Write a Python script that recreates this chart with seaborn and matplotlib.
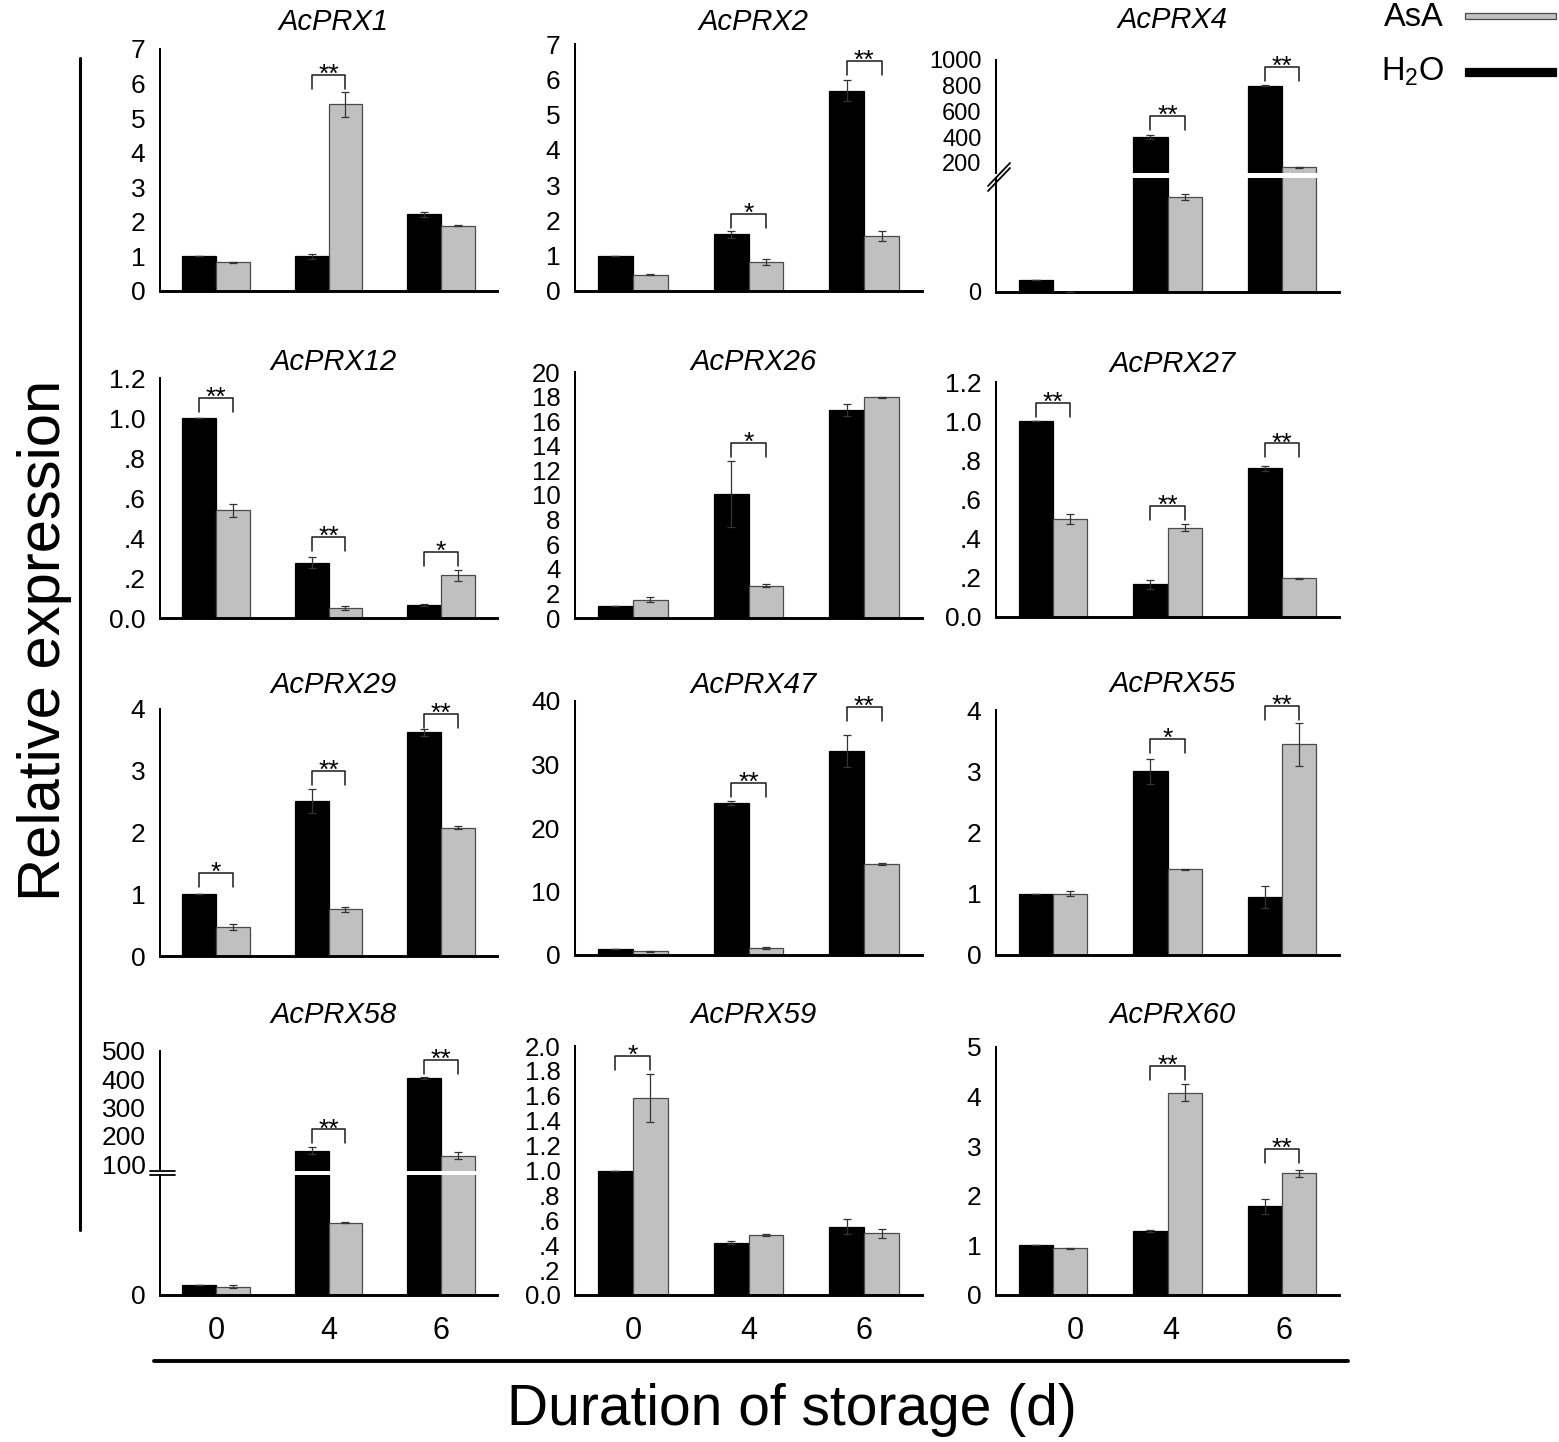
import numpy as np
import pandas as pd
import matplotlib
matplotlib.use("Agg")
import matplotlib.pyplot as plt
import seaborn as sns
from matplotlib.patches import Rectangle
from matplotlib.lines import Line2D

# ---------------- data ----------------
days = ["0", "4", "6"]
treatments = ["H2O", "AsA"]

prx1_h2o = [1.0, 1.0, 2.22];      prx1_h2o_err = [0.0, 0.08, 0.07]
prx1_asa = [0.83, 5.40, 1.89];    prx1_asa_err = [0.02, 0.37, 0.01]
prx1_sig = [(1, "**", 6.26)]

prx2_h2o = [1.0, 1.61, 5.68];     prx2_h2o_err = [0.0, 0.10, 0.30]
prx2_asa = [0.46, 0.83, 1.56];    prx2_asa_err = [0.01, 0.09, 0.15]
prx2_sig = [(1, "*", 2.19), (2, "**", 6.52)]

prx4_h2o = [1.0, 400.0, 800.0];   prx4_h2o_err = [0.0, 14.0, 3.0]
prx4_asa = [0.0, 8.6, 166.0];     prx4_asa_err = [0.0, 0.27, 3.0]
prx4_sig = [(1, "**", 568.0), (2, "**", 948.0)]

prx12_h2o = [1.0, 0.276, 0.064]; prx12_h2o_err = [0.0, 0.028, 0.005]
prx12_asa = [0.538, 0.048, 0.214]; prx12_asa_err = [0.033, 0.010, 0.028]
prx12_sig = [(0, "**", 1.10), (1, "**", 0.406), (2, "*", 0.328)]

prx26_h2o = [1.0, 10.1, 16.9];   prx26_h2o_err = [0.0, 2.7, 0.5]
prx26_asa = [1.49, 2.64, 17.93]; prx26_asa_err = [0.2, 0.15, 0.05]
prx26_sig = [(1, "*", 14.2)]

prx27_h2o = [1.0, 0.166, 0.76];  prx27_h2o_err = [0.0, 0.022, 0.012]
prx27_asa = [0.50, 0.456, 0.198]; prx27_asa_err = [0.024, 0.017, 0.002]
prx27_sig = [(0, "**", 1.093), (1, "**", 0.568), (2, "**", 0.886)]

prx29_h2o = [1.0, 2.51, 3.62];   prx29_h2o_err = [0.0, 0.19, 0.05]
prx29_asa = [0.476, 0.757, 2.08]; prx29_asa_err = [0.05, 0.04, 0.02]
prx29_sig = [(0, "*", 1.34), (1, "**", 2.99), (2, "**", 3.92)]

prx47_h2o = [1.0, 24.0, 32.1];   prx47_h2o_err = [0.0, 0.3, 2.5]
prx47_asa = [0.6, 1.05, 14.4];   prx47_asa_err = [0.05, 0.15, 0.15]
prx47_sig = [(1, "**", 27.1), (2, "**", 39.05)]

prx55_h2o = [1.0, 3.0, 0.95];    prx55_h2o_err = [0.0, 0.2, 0.18]
prx55_asa = [1.0, 1.40, 3.44];   prx55_asa_err = [0.04, 0.01, 0.35]
prx55_sig = [(1, "*", 3.52), (2, "**", 4.07)]

prx58_h2o = [1.0, 146.5, 403.5]; prx58_h2o_err = [0.0, 12.0, 2.0]
prx58_asa = [0.83, 7.23, 129.0]; prx58_asa_err = [0.13, 0.05, 12.0]
prx58_sig = [(1, "**", 222.0), (2, "**", 467.0)]

prx59_h2o = [1.0, 0.42, 0.55];   prx59_h2o_err = [0.0, 0.013, 0.059]
prx59_asa = [1.583, 0.483, 0.494]; prx59_asa_err = [0.195, 0.008, 0.04]
prx59_sig = [(0, "*", 1.92)]

prx60_h2o = [1.0, 1.285, 1.79];  prx60_h2o_err = [0.0, 0.02, 0.15]
prx60_asa = [0.94, 4.08, 2.456]; prx60_asa_err = [0.005, 0.17, 0.07]
prx60_sig = [(1, "**", 4.62), (2, "**", 2.95)]

# tick values / labels
ticks_0_7 = [0, 1, 2, 3, 4, 5, 6, 7]
ticks_0_4 = [0, 1, 2, 3, 4]
ticks_0_5 = [0, 1, 2, 3, 4, 5]
ticks_0_20 = [0, 2, 4, 6, 8, 10, 12, 14, 16, 18, 20]
ticks_0_40 = [0, 10, 20, 30, 40]
ticks_12 = [0.0, 0.2, 0.4, 0.6, 0.8, 1.0, 1.2]
labels_12 = ["0.0", ".2", ".4", ".6", ".8", "1.0", "1.2"]
ticks_20 = [0.0, 0.2, 0.4, 0.6, 0.8, 1.0, 1.2, 1.4, 1.6, 1.8, 2.0]
labels_20 = ["0.0", ".2", ".4", ".6", ".8", "1.0", "1.2", "1.4", "1.6", "1.8", "2.0"]
ticks_prx4_upper = [200, 400, 600, 800, 1000]
ticks_prx58_upper = [100, 200, 300, 400, 500]

# ---------------- style ----------------
sns.set_style("white")
plt.rcParams["font.family"] = ["Liberation Sans", "DejaVu Sans"]
plt.rcParams["mathtext.fontset"] = "custom"
plt.rcParams["mathtext.rm"] = "Liberation Sans"
plt.rcParams["mathtext.it"] = "Liberation Sans:italic"
plt.rcParams["text.color"] = "black"
plt.rcParams["axes.labelcolor"] = "black"
plt.rcParams["xtick.color"] = "black"
plt.rcParams["ytick.color"] = "black"
plt.rcParams["axes.edgecolor"] = "black"

W, H = 1559, 1442
fig = plt.figure(figsize=(W / 100, H / 100), dpi=100)
fig.patch.set_facecolor("white")

BLACK = "#000000"
GRAY = "#c0c0c0"
GRAY_EDGE = "#4a4a4a"
ERR = "#333333"


def rect(l, r, t, b):
    return [l / W, 1 - b / H, (r - l) / W, (b - t) / H]


def fx(x):
    return x / W


def fy(y):
    return 1 - y / H


COLS = {1: (160, 497), 2: (575, 922), 3: (996, 1339)}


def style_axes(ax, upper=False, ysize=19):
    for s in ["top", "right"]:
        ax.spines[s].set_visible(False)
    ax.spines["left"].set_linewidth(1.45)
    ax.spines["bottom"].set_linewidth(2.1)
    ax.spines["left"].set_color("black")
    ax.spines["bottom"].set_color("black")
    ax.set_facecolor("none")
    ax.tick_params(axis="y", direction="out", length=2.5, width=1.3, pad=8,
                   labelsize=ysize, colors="black")
    ax.tick_params(axis="x", direction="out", length=4, width=1.3, pad=11,
                   labelsize=22, colors="black")
    if upper:
        ax.spines["bottom"].set_visible(False)
        ax.tick_params(axis="x", bottom=False, labelbottom=False)
    ax.set_xlabel("")
    ax.set_ylabel("")
    ax.set_xlim(-0.5, 2.5)


def draw_bars(ax, h, he, a, ae):
    df = pd.DataFrame({
        "day": days + days,
        "value": h + a,
        "treatment": ["H2O"] * 3 + ["AsA"] * 3,
    })
    sns.barplot(data=df, x="day", y="value", hue="treatment", order=days,
                hue_order=treatments, palette={"H2O": BLACK, "AsA": GRAY},
                saturation=1, width=0.6, errorbar=None, legend=False, ax=ax,
                zorder=2)
    conts = list(ax.containers[:2])
    for cont, ec, vals, errs in zip(conts, [BLACK, GRAY_EDGE], [h, a], [he, ae]):
        xs = []
        for p in cont.patches:
            p.set_edgecolor(ec)
            p.set_linewidth(0.9)
            xs.append(p.get_x() + p.get_width() / 2)
        ax.errorbar(xs, vals, yerr=errs, fmt="none", ecolor=ERR, elinewidth=0.9,
                    capsize=3, capthick=0.9, zorder=3)


def brackets(ax, sig, leg_px=14):
    y0, y1 = ax.get_ylim()
    hpx = ax.bbox.height
    leg = leg_px / hpx * (y1 - y0)
    for gi, lab, top in sig:
        x0, x1 = gi - 0.15, gi + 0.15
        ax.plot([x0, x0, x1, x1], [top - leg, top, top, top - leg], color="#1a1a1a",
                lw=1.1, clip_on=False, zorder=4)
        ax.annotate(lab, (gi, top), xytext=(0, -5), textcoords="offset points",
                    ha="center", va="baseline", fontsize=19, color="black",
                    annotation_clip=False)


def title(text, col, baseline):
    l, r = COLS[col]
    fig.text(fx((l + r) / 2 + 5), fy(baseline), text, ha="center", va="baseline",
             fontsize=21, style="italic", color="black")


def simple_panel(col, top, bottom, data, ylim, yticks, ylabels=None, row4=False,
                 ysize=19, xlabel_offsets=None):
    l, r = COLS[col]
    ax = fig.add_axes(rect(l, r, top, bottom))
    h, he, a, ae, sig = data
    draw_bars(ax, h, he, a, ae)
    style_axes(ax, ysize=ysize)
    ax.set_ylim(*ylim)
    ax.set_yticks(yticks)
    ax.set_yticklabels(ylabels if ylabels is not None else [str(t) for t in yticks])
    ax.set_xticks([0, 1, 2])
    if row4 and xlabel_offsets is None:
        ax.set_xticklabels(days)
    else:
        ax.set_xticklabels([])
    if row4 and xlabel_offsets is not None:
        for i, d in enumerate(days):
            ax.annotate(d, xy=(i, 0), xycoords=("data", "axes fraction"),
                        xytext=(xlabel_offsets[i] * 0.72, -15),
                        textcoords="offset points", ha="center", va="top",
                        fontsize=22, color="black", annotation_clip=False)
    brackets(ax, sig)
    return ax


def broken_panel(col, top, brk_top, brk_bot, bottom, data, upper_lim, upper_ticks,
                 lower_lim, row4=False, ysize=19):
    l, r = COLS[col]
    h, he, a, ae, sig = data
    axu = fig.add_axes(rect(l, r, top, brk_top))
    draw_bars(axu, h, he, a, ae)
    style_axes(axu, upper=True, ysize=ysize)
    axu.set_ylim(*upper_lim)
    axu.set_yticks(upper_ticks)
    axu.set_yticklabels([str(t) for t in upper_ticks])
    axl = fig.add_axes(rect(l, r, brk_bot, bottom))
    draw_bars(axl, h, he, a, ae)
    style_axes(axl, ysize=ysize)
    axl.set_ylim(*lower_lim)
    axl.set_yticks([0])
    axl.set_yticklabels(["0"])
    axl.set_xticks([0, 1, 2])
    axl.set_xticklabels(days if row4 else [])
    brackets(axu, sig, leg_px=14)
    return axu, axl


# ---------------- panels ----------------
# Row 1
simple_panel(1, 49, 291, (prx1_h2o, prx1_h2o_err, prx1_asa, prx1_asa_err, prx1_sig),
             (0, 7), ticks_0_7)
simple_panel(2, 44, 291, (prx2_h2o, prx2_h2o_err, prx2_asa, prx2_asa_err, prx2_sig),
             (0, 7), ticks_0_7)
broken_panel(3, 60, 173, 178, 291.5,
             (prx4_h2o, prx4_h2o_err, prx4_asa, prx4_asa_err, prx4_sig),
             (122, 1000), ticks_prx4_upper, (0, 10.3), ysize=17)

# Row 2
simple_panel(1, 378, 618, (prx12_h2o, prx12_h2o_err, prx12_asa, prx12_asa_err, prx12_sig),
             (0, 1.2), ticks_12, labels_12)
simple_panel(2, 372, 618, (prx26_h2o, prx26_h2o_err, prx26_asa, prx26_asa_err, prx26_sig),
             (0, 20), ticks_0_20, ysize=18.5)
simple_panel(3, 382, 617, (prx27_h2o, prx27_h2o_err, prx27_asa, prx27_asa_err, prx27_sig),
             (0, 1.2), ticks_12, labels_12)

# Row 3
simple_panel(1, 709, 956, (prx29_h2o, prx29_h2o_err, prx29_asa, prx29_asa_err, prx29_sig),
             (0, 4), ticks_0_4)
simple_panel(2, 701, 955, (prx47_h2o, prx47_h2o_err, prx47_asa, prx47_asa_err, prx47_sig),
             (0, 40), ticks_0_40)
simple_panel(3, 710, 955, (prx55_h2o, prx55_h2o_err, prx55_asa, prx55_asa_err, prx55_sig),
             (0, 4), ticks_0_4)

# Row 4
broken_panel(1, 1050.7, 1170.7, 1175, 1295,
             (prx58_h2o, prx58_h2o_err, prx58_asa, prx58_asa_err, prx58_sig),
             (76.6, 500), ticks_prx58_upper, (0, 12), row4=True)
simple_panel(2, 1046, 1295, (prx59_h2o, prx59_h2o_err, prx59_asa, prx59_asa_err, prx59_sig),
             (0, 2.0), ticks_20, labels_20, row4=True, ysize=18.5)
simple_panel(3, 1047, 1295, (prx60_h2o, prx60_h2o_err, prx60_asa, prx60_asa_err, prx60_sig),
             (0, 5), ticks_0_5, row4=True, xlabel_offsets=[22, 3, 2])

# titles
title("AcPRX1", 1, 30)
title("AcPRX2", 2, 30)
title("AcPRX4", 3, 28)
title("AcPRX12", 1, 370)
title("AcPRX26", 2, 370)
title("AcPRX27", 3, 372)
title("AcPRX29", 1, 693)
title("AcPRX47", 2, 693)
title("AcPRX55", 3, 692)
title("AcPRX58", 1, 1023)
title("AcPRX59", 2, 1023)
title("AcPRX60", 3, 1023)

# break marks
for yy in (1170.7, 1175.0):
    fig.add_artist(Line2D([fx(150), fx(175)], [fy(yy), fy(yy)], color="black", lw=1.3))
for dy in (0, 5):
    fig.add_artist(Line2D([fx(988), fx(1010)], [fy(186 + dy), fy(163 + dy)],
                          color="black", lw=1.3))

# outer decoration lines
fig.add_artist(Line2D([fx(79.5), fx(79.5)], [fy(58), fy(1230)], color="black", lw=2.2))
fig.add_artist(Line2D([fx(154), fx(1348)], [fy(1360.7), fy(1360.7)], color="black", lw=2.8))

# axis labels
fig.text(fx(45), fy(640), "Relative expression", rotation=90, ha="center",
         va="center", fontsize=43, color="black")
fig.text(fx(792), fy(1410), "Duration of storage (d)", ha="center", va="center",
         fontsize=41, color="black")

# legend
fig.text(fx(1444), fy(17), "AsA", ha="right", va="center", fontsize=23.5, color="black")
fig.text(fx(1444), fy(72), "H$_\\mathregular{2}$O", ha="right", va="center",
         fontsize=23.5, color="black")
fig.add_artist(Rectangle((fx(1465), fy(19)), fx(1556) - fx(1465), fy(13) - fy(19),
                         transform=fig.transFigure, facecolor=GRAY, edgecolor=GRAY_EDGE,
                         lw=0.9))
fig.add_artist(Rectangle((fx(1465), fy(76)), fx(1556) - fx(1465), fy(68) - fy(76),
                         transform=fig.transFigure, facecolor=BLACK, edgecolor=BLACK,
                         lw=0.9))

fig.savefig("out.png", dpi=100, facecolor="white")
